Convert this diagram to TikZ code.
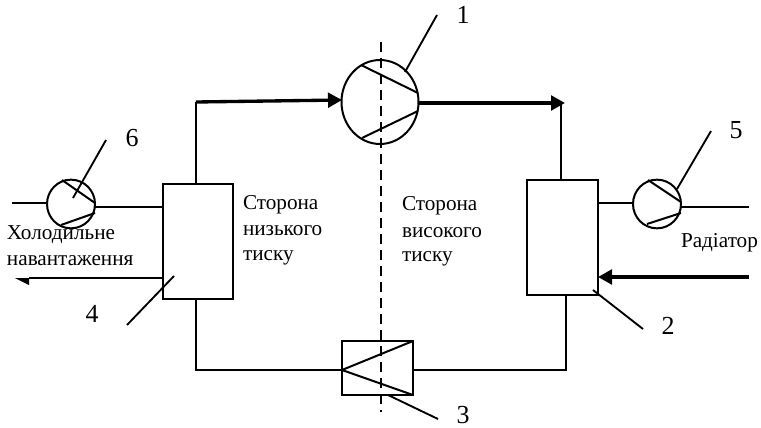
\documentclass[tikz,border=0pt]{standalone}
\usepackage{fontspec}
\setmainfont{Liberation Serif}
\usetikzlibrary{shapes.geometric,arrows.meta}
\tikzset{
  x=0.75pt,y=-0.75pt,
  ln/.style={line width=1.5pt,black},
  thk/.style={line width=2.5pt,black},
  thn/.style={line width=0.9pt,black},
  lead/.style={line width=1.4pt,black},
  unitbox/.style={draw,line width=1.5pt,rectangle,inner sep=0,outer sep=0},
  unitcirc/.style={draw,line width=1.5pt,ellipse,inner sep=0,outer sep=0},
  txt/.style={font=\fontsize{15.9pt}{19.5pt}\selectfont,inner sep=0,outer sep=0,anchor=west},
  num/.style={font=\fontsize{19.5pt}{22pt}\selectfont,inner sep=0,outer sep=0},
  tip/.style={-{Triangle[length=10.5pt,width=11pt]}},
}
\begin{document}
\begin{tikzpicture}
\useasboundingbox (0,0) rectangle (761,428);
% components
\node[unitcirc,minimum width=57.75pt,minimum height=63pt] (comp) at (380,102) {};
\node[unitcirc,minimum width=36pt,minimum height=36.5pt] (pumpA) at (657,204) {};
\node[unitcirc,minimum width=36pt,minimum height=36.5pt] (pumpB) at (71,204) {};
\node[unitbox,minimum width=52.9pt,minimum height=86.2pt] (cond) at (562.75,237.5) {};
\node[unitbox,minimum width=52.5pt,minimum height=86.2pt] (evap) at (198,241.5) {};
\node[unitbox,minimum width=53.2pt,minimum height=40.5pt] (valve) at (377.5,368) {};
% internal strokes
\coordinate (c1a) at (361,65); \coordinate (c1b) at (418,93);
\coordinate (c2a) at (362,138); \coordinate (c2b) at (418,111);
\draw[ln] (c1a) -- (c1b);
\draw[ln] (c2a) -- (c2b);
\coordinate (a1a) at (648,180); \coordinate (a1b) at (681,202);
\coordinate (a2a) at (647,224); \coordinate (a2b) at (681,213);
\draw[ln] (a1a) -- (a1b);
\draw[ln] (a2a) -- (a2b);
\coordinate (b1a) at (62,180); \coordinate (b1b) at (95,203);
\coordinate (b2a) at (61,225); \coordinate (b2b) at (95,213);
\draw[ln] (b1a) -- (b1b);
\draw[ln] (b2a) -- (b2b);
\coordinate (vl) at (342,370);
\coordinate (vt) at (413,341); \coordinate (vb) at (413,395);
\draw[ln] (vt) -- (vl) -- (vb);
% divider
\coordinate (dtop) at (381,42); \coordinate (dbot) at (381,412);
\draw[line width=1pt,dash pattern=on 7.5pt off 4.5pt] (dtop) -- (dbot);
% main circuit
\coordinate (evT) at (196,184); \coordinate (evB) at (196,299);
\coordinate (c0) at (196,102);
\coordinate (compIn) at (342,100);
\coordinate (compOut) at (418,103);
\coordinate (condIn) at (565,103);
\coordinate (condV) at (561,103);
\coordinate (condT) at (561,180);
\coordinate (condB) at (566,295);
\coordinate (c1) at (566,370);
\coordinate (c2) at (196,370);
\coordinate (valveR) at (413,370);
\draw[ln] (evT) -- (c0);
\draw[thk,tip] (c0) -- (compIn);
\draw[thk,tip] (compOut) -- (condIn);
\draw[ln] (condV) -- (condT);
\draw[ln] (condB) -- (c1) -- (valveR);
\draw[ln] (vl) -- (c2) -- (evB);
% pump lines
\coordinate (pA1) at (598,203); \coordinate (pA2) at (633,203);
\coordinate (pA3) at (681,207); \coordinate (pA4) at (749,207);
\draw[ln] (pA1) -- (pA2);
\draw[ln] (pA3) -- (pA4);
\coordinate (pB1) at (12,203); \coordinate (pB2) at (47,203);
\coordinate (pB3) at (95,207); \coordinate (pB4) at (163,207);
\draw[ln] (pB1) -- (pB2);
\draw[ln] (pB3) -- (pB4);
% secondary arrows
\coordinate (rIn) at (749,277); \coordinate (rEnd) at (598,277);
\draw[thk,tip] (rIn) -- (rEnd);
\coordinate (lIn) at (163,278); \coordinate (lEnd) at (29,278);
\coordinate (lTip) at (15,278); \coordinate (lLow) at (29,285);
\draw[thn] (lIn) -- (lEnd);
\fill (lTip) -- (lLow) -- (lEnd) -- cycle;
% labels and leaders
\node[num] (n1) at (463,15) {1};
\node[num] (n2) at (668,326) {2};
\node[num] (n3) at (463,415) {3};
\node[num] (n4) at (92,314) {4};
\node[num] (n5) at (736,130) {5};
\node[num] (n6) at (132,138) {6};
\coordinate (l1a) at (437,15); \coordinate (l1b) at (405,72);
\coordinate (l2a) at (643,329); \coordinate (l2b) at (593,290);
\coordinate (l3a) at (438,419); \coordinate (l3b) at (388,395);
\coordinate (l4a) at (127,325); \coordinate (l4b) at (174,276);
\coordinate (l5a) at (711,131); \coordinate (l5b) at (677,189);
\coordinate (l6a) at (106,140); \coordinate (l6b) at (73,198);
\draw[lead] (l1a) -- (l1b);
\draw[lead] (l2a) -- (l2b);
\draw[lead] (l3a) -- (l3b);
\draw[lead] (l4a) -- (l4b);
\draw[lead] (l5a) -- (l5b);
\draw[lead] (l6a) -- (l6b);
% text
\node[txt] (t1) at (243,205) {Сторона};
\node[txt] (t2) at (243,231) {низького};
\node[txt] (t3) at (243,258) {тиску};
\node[txt] (t4) at (402,206) {Сторона};
\node[txt] (t5) at (402,233) {високого};
\node[txt] (t6) at (402,259) {тиску};
\node[txt] (t7) at (7,235) {Холодильне};
\node[txt] (t8) at (7,261) {навантаження};
\node[txt] (t9) at (681,243) {Радіатор};
\end{tikzpicture}
\end{document}
